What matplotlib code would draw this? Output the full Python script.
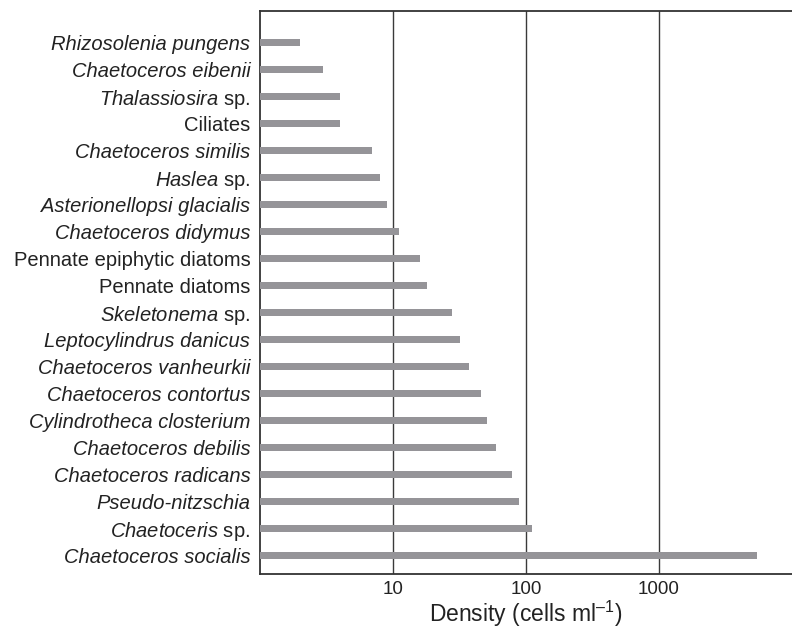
import matplotlib
matplotlib.use("Agg")
import matplotlib.pyplot as plt
import numpy as np

plt.rcParams['font.family'] = ['Liberation Sans', 'DejaVu Sans']
plt.rcParams['mathtext.fontset'] = 'custom'
plt.rcParams['mathtext.rm'] = 'Liberation Sans'
plt.rcParams['mathtext.it'] = 'Liberation Sans:italic'
plt.rcParams['mathtext.default'] = 'regular'

# Top to bottom as in the reference
taxa = [
    "Rhizosolenia pungens", "Chaetoceros eibenii", "Thalassiosira sp.", "Ciliates",
    "Chaetoceros similis", "Haslea sp.", "Asterionellopsi glacialis",
    "Chaetoceros didymus", "Pennate epiphytic diatoms", "Pennate diatoms",
    "Skeletonema sp.", "Leptocylindrus danicus", "Chaetoceros vanheurkii",
    "Chaetoceros contortus", "Cylindrotheca closterium", "Chaetoceros debilis",
    "Chaetoceros radicans", "Pseudo-nitzschia", "Chaetoceris sp.",
    "Chaetoceros socialis",
]
# How each label is styled: 'italic', 'regular', or 'genus' (italic genus + roman "sp.")
label_style = [
    "italic", "italic", "genus", "regular",
    "italic", "genus", "italic",
    "italic", "regular", "regular",
    "genus", "italic", "italic",
    "italic", "italic", "italic",
    "italic", "italic", "genus",
    "italic",
]
density = [2, 3, 4, 4, 7, 8, 9, 11, 16, 18, 28, 32, 37, 46, 51, 60, 78, 89, 111, 5500]
xticks = [10, 100, 1000]

fig = plt.figure(figsize=(7.92, 6.29), dpi=100)
ax = fig.add_axes([260/792, 1 - 574/629, 1 - 260/792, (574 - 11)/629])

n = len(taxa)
ypos = np.arange(n)[::-1]
ax.barh(ypos, density, left=0, height=0.27, color='#959498', zorder=3)
ax.set_xscale('log')
ax.set_xlim(1, 10000)
ax.set_ylim(-0.68, n - 1 + 1.17)

for v in xticks:
    ax.axvline(v, color='#3a3a3a', lw=1.0, zorder=2)

ax.set_xticks(xticks)
ax.set_xticklabels([str(v) for v in xticks], fontsize=13.5, color='#222222')
ax.xaxis.set_minor_locator(matplotlib.ticker.NullLocator())
ax.tick_params(axis='x', length=0, pad=5)
ax.tick_params(axis='y', length=0, pad=7)

labels = []
for t, s in zip(taxa, label_style):
    if s == 'genus':
        g = t.replace(' sp.', '')
        labels.append(r'$\mathit{' + g + r'}$ sp.')
    else:
        labels.append(t)
ax.set_yticks(ypos)
ax.set_yticklabels(labels, fontsize=14.5, color='#222222')
for lab, s in zip(ax.get_yticklabels(), label_style):
    if s == 'italic':
        lab.set_fontstyle('italic')

xl = ax.set_xlabel(r'Density (cells ml$^{\mathregular{–1}}$)', fontsize=16.5, color='#222222')
ax.xaxis.set_label_coords(0.5, (574 - 622) / 563.0)
xl.set_verticalalignment('baseline')

for side in ['left', 'top', 'bottom']:
    ax.spines[side].set_color('#333333')
    ax.spines[side].set_linewidth(1.3)
ax.spines['right'].set_visible(False)

fig.savefig('out.png', dpi=100)
